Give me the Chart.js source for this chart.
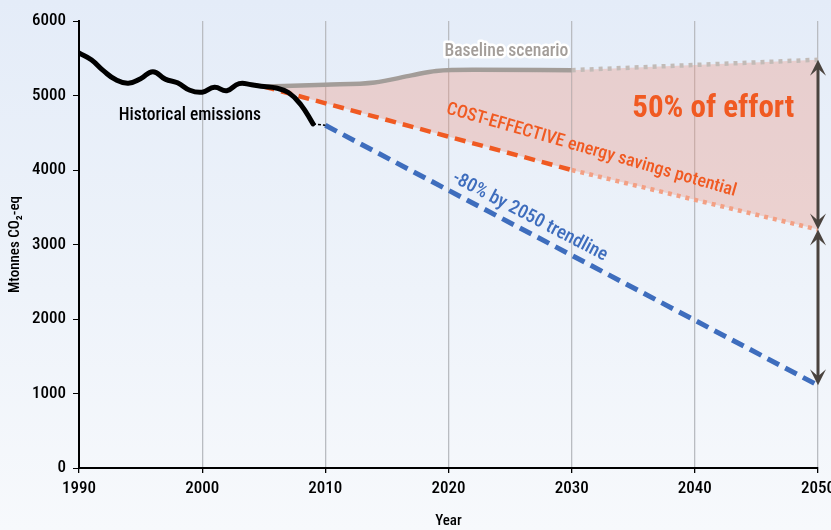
<!DOCTYPE html>
<html>
<head>
<meta charset="utf-8">
<script src="https://cdn.jsdelivr.net/npm/chart.js@4.4.1/dist/chart.umd.min.js"></script>
<style>
  html, body { margin: 0; padding: 0; overflow: hidden; }
  body {
    width: 831px; height: 530px;
    background: linear-gradient(to bottom, #e4ecf8 0%, #eef3fa 55%, #f7f9fc 100%);
  }
  #wrap { width: 850px; height: 530px; }
</style>
</head>
<body>
<div id="wrap"><canvas id="co2Chart" width="850" height="530"></canvas></div>
<script>
// ── data ─────────────────────────────────────────────────────────────────────
const xTicks = [1990, 2000, 2010, 2020, 2030, 2040, 2050];
const yTicks = [0, 1000, 2000, 3000, 4000, 5000, 6000];

const histYears  = [1990,1991,1992,1993,1994,1995,1996,1997,1998,1999,2000,2001,2002,2003,2004,2005,2006,2007,2008,2009];
const histValues = [5570,5480,5330,5210,5165,5225,5320,5220,5170,5070,5045,5110,5065,5160,5145,5120,5100,5040,4880,4620];

const linkYears  = [2009, 2010];
const linkValues = [4620, 4600];

const baseYears  = [2005, 2010, 2014, 2017, 2019, 2022, 2030];
const baseValues = [5120, 5145, 5175, 5270, 5330, 5345, 5340];

const baseProjYears  = [2030, 2050];
const baseProjValues = [5340, 5480];

const costYears  = [2005, 2030];
const costValues = [5120, 4000];

const costProjYears  = [2030, 2050];
const costProjValues = [4000, 3200];

const trendYears  = [2010, 2050];
const trendValues = [4600, 1110];

// ── styling ──────────────────────────────────────────────────────────────────
const COLORS = {
  black:    '#000000',
  gray:     '#a39d99',
  grayLite: '#c2bbb7',
  orange:   '#f05a22',
  orangeLt: '#f3a084',
  blue:     '#3e6dbd',
  arrow:    '#4a433e',
  fill:     'rgba(235,150,130,0.35)',
  grid:     '#b9bcc1',
};
const FONT = "'Roboto Condensed', 'Open Sans Condensed', sans-serif";

Chart.defaults.font.family = FONT;
Chart.defaults.color = '#000';

const pts = (xs, ys) => xs.map((x, i) => ({ x, y: ys[i] }));

// ── annotations: labels + double arrows
const annotations = {
  id: 'annotations',
  afterDatasetsDraw(chart) {
    const { ctx, scales: { x, y } } = chart;
    const X = v => x.getPixelForValue(v);
    const Y = v => y.getPixelForValue(v);

    function text(str, vx, vy, font, color, angle, halo) {
      ctx.save();
      ctx.translate(X(vx), Y(vy));
      ctx.rotate(angle * Math.PI / 180);
      ctx.font = font + ' ' + FONT;
      ctx.textAlign = 'center';
      ctx.textBaseline = 'middle';
      if (halo) {
        ctx.lineWidth = 5;
        ctx.lineJoin = 'round';
        ctx.strokeStyle = '#ffffff';
        ctx.strokeText(str, 0, 0);
      }
      ctx.fillStyle = color;
      ctx.fillText(str, 0, 0);
      ctx.restore();
    }

    function head(px, py, dir) {
      // notched arrow head, dir = -1 up, +1 down
      ctx.beginPath();
      ctx.moveTo(px, py);
      ctx.lineTo(px - 8, py - dir * 16);
      ctx.lineTo(px, py - dir * 9);
      ctx.lineTo(px + 8, py - dir * 16);
      ctx.closePath();
      ctx.fill();
    }

    function dblArrow(vx, v1, v2) {
      const px = X(vx), p1 = Y(v1), p2 = Y(v2);
      ctx.save();
      ctx.strokeStyle = COLORS.arrow;
      ctx.fillStyle = COLORS.arrow;
      ctx.lineWidth = 3;
      ctx.beginPath();
      ctx.moveTo(px, p1 + 8);
      ctx.lineTo(px, p2 - 8);
      ctx.stroke();
      head(px, p1, -1);
      head(px, p2, 1);
      ctx.restore();
    }

    const endX = baseProjYears[baseProjYears.length - 1];
    dblArrow(endX, baseProjValues[baseProjValues.length - 1], costProjValues[costProjValues.length - 1]);
    dblArrow(endX, costProjValues[costProjValues.length - 1], trendValues[trendValues.length - 1]);

    text('Baseline scenario', 2024.7, 5590, '500 17.6px', COLORS.gray, 0, true);
    text('Historical emissions', 1999.0, 4725, '500 17.5px', COLORS.black, 0, false);
    text('50% of effort', 2041.5, 4810, 'bold 31px', COLORS.orange, 0, false);
    text('COST-EFFECTIVE energy savings potential', 2031.6, 4265, '500 18px', COLORS.orange, 16, false);
    text('-80% by 2050 trendline', 2026.6, 3370, '500 19px', COLORS.blue, 27.5, false);
  },
};

// ── chart
new Chart(document.getElementById('co2Chart'), {
  type: 'line',
  data: {
    datasets: [
      {
        label: 'Historical emissions',
        data: pts(histYears, histValues),
        borderColor: COLORS.black,
        borderWidth: 5,
        tension: 0.45,
        pointRadius: 0,
        borderCapStyle: 'round',
      },
      {
        label: 'link',
        data: pts(linkYears, linkValues),
        borderColor: COLORS.black,
        borderWidth: 1.5,
        borderDash: [3, 2],
        pointRadius: 0,
      },
      {
        label: 'Baseline scenario',
        data: pts(baseYears, baseValues),
        borderColor: COLORS.gray,
        borderWidth: 4.5,
        cubicInterpolationMode: 'monotone',
        pointRadius: 0,
        fill: { target: 4, above: COLORS.fill, below: COLORS.fill },
      },
      {
        label: 'Baseline projection',
        data: pts(baseProjYears, baseProjValues),
        borderColor: COLORS.grayLite,
        borderWidth: 4.5,
        borderDash: [4, 5],
        pointRadius: 0,
        fill: { target: 5, above: COLORS.fill, below: COLORS.fill },
      },
      {
        label: 'Cost-effective',
        data: pts(costYears, costValues),
        borderColor: COLORS.orange,
        borderWidth: 4.5,
        borderDash: [11, 7],
        pointRadius: 0,
      },
      {
        label: 'Cost-effective projection',
        data: pts(costProjYears, costProjValues),
        borderColor: COLORS.orangeLt,
        borderWidth: 4.5,
        borderDash: [4, 5],
        pointRadius: 0,
      },
      {
        label: '-80% trendline',
        data: pts(trendYears, trendValues),
        borderColor: COLORS.blue,
        borderWidth: 5,
        borderDash: [13, 7],
        pointRadius: 0,
      },
    ],
  },
  options: {
    responsive: false,
    animation: false,
    layout: { padding: { top: 21, right: 32, left: 0, bottom: 0 } },
    plugins: {
      legend: { display: false },
      tooltip: { enabled: false },
      filler: { drawTime: 'beforeDatasetsDraw' },
    },
    scales: {
      x: {
        type: 'linear',
        min: 1990,
        max: 2050,
        afterBuildTicks: s => { s.ticks = xTicks.map(v => ({ value: v })); },
        afterFit: s => { s.height = 62; },
        ticks: {
          callback: v => String(v),
          font: { size: 17, weight: '500' },
          color: '#000',
          padding: 6,
          maxRotation: 0,
        },
        grid: { color: COLORS.grid, lineWidth: 1.3, tickColor: '#000', tickLength: 5 },
        border: { color: '#000', width: 2 },
        title: {
          display: true,
          text: 'Year',
          font: { size: 15, weight: '500' },
          color: '#000',
          padding: { top: 1, bottom: 0 },
        },
      },
      y: {
        min: 0,
        max: 6000,
        afterBuildTicks: s => { s.ticks = yTicks.map(v => ({ value: v })); },
        afterFit: s => { s.width = 79; },
        ticks: {
          callback: v => String(v),
          font: { size: 17, weight: '500' },
          color: '#000',
          padding: 7,
        },
        grid: { drawOnChartArea: false, tickColor: '#000', tickLength: 6 },
        border: { color: '#000', width: 2 },
        title: {
          display: true,
          text: 'Mtonnes CO₂-eq',
          font: { size: 15, weight: '500' },
          color: '#000',
          padding: { top: 6, bottom: 0 },
        },
      },
    },
  },
  plugins: [annotations],
});
</script>
</body>
</html>
